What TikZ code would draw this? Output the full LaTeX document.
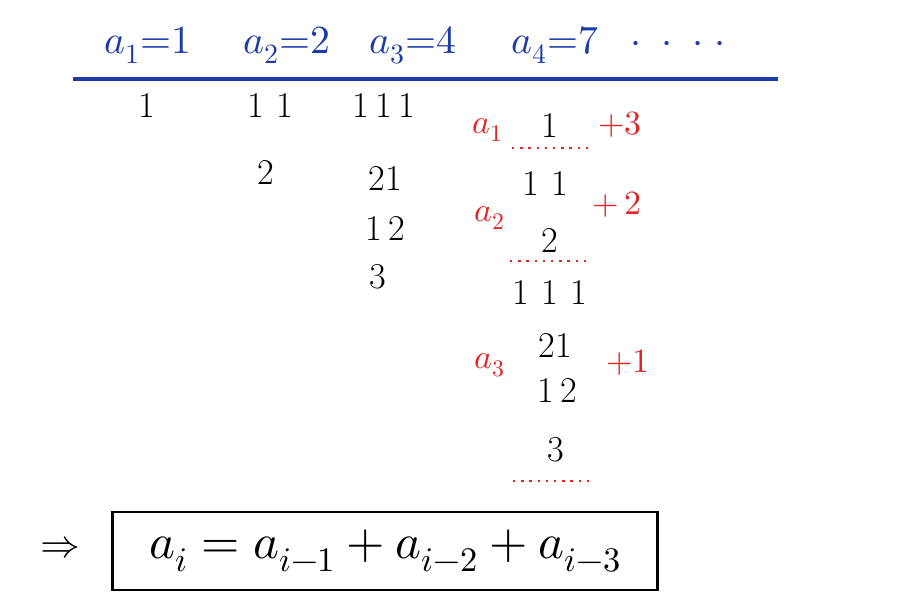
\documentclass[tikz,border=0pt]{standalone}
\usepackage{fontspec}
\usepackage{unicode-math}
\definecolor{inkblue}{RGB}{28,58,168}
\definecolor{inkred}{RGB}{226,36,36}
\begin{document}
\begin{tikzpicture}[x=0.03cm, y=-0.03cm,
term/.style={inner sep=0pt, font=\fontsize{34}{38}\selectfont, text=inkblue},
part/.style={inner sep=0pt, font=\fontsize{31}{34}\selectfont},
note/.style={inner sep=0pt, font=\fontsize{29}{32}\selectfont, text=inkred},
sep/.style={inkred, line width=2pt, dash pattern=on 2pt off 5pt},
result/.style={draw, line width=1.8pt, minimum width=545*0.03cm, minimum height=78*0.03cm, font=\fontsize{42}{46}\selectfont}
]
\useasboundingbox (0,0) rectangle (905,612);
% first terms
\node[term] (t1) at (148,45) {$a_1{=}1$};
\node[term] (t2) at (287,45) {$a_2{=}2$};
\node[term] (t3) at (413,45) {$a_3{=}4$};
\node[term] (t4) at (555,45) {$a_4{=}7$};
\node[term] (tdots) at (678,47) {$\cdot\;\cdot\;\cdot\;\cdot$};
\draw[inkblue, line width=2.6pt] (73,79) -- (778,79);
% compositions of 1, 2, 3
\node[part] (p1) at (147,105) {1};
\node[part] (p2a) at (270,105) {1\,\,1};
\node[part] (p2b) at (266,172) {2};
\node[part] (p3a) at (384,105) {1\,1\,1};
\node[part] (p3b) at (385,178) {21};
\node[part] (p3c) at (385,228) {1\,2};
\node[part] (p3d) at (378,277) {3};
% compositions of 4
\node[part] (q1) at (550,125) {1};
\draw[sep] (512,148) -- (590,148);
\node[part] (q2) at (545,183) {1\,\,1};
\node[part] (q3) at (550,240) {2};
\draw[sep] (510,261) -- (590,261);
\node[part] (q4) at (550,292) {1\,\,1\,\,1};
\node[part] (q5) at (555,345) {21};
\node[part] (q6) at (557,390) {1\,2};
\node[part] (q7) at (556,450) {3};
\draw[sep] (513,481) -- (590,481);
% grouping notes
\node[note] (m1) at (488,130) {$a_1$};
\node[note] (m2) at (490,218) {$a_2$};
\node[note] (m3) at (490,365) {$a_3$};
\node[note] (s1) at (620,125) {$+3$};
\node[note] (s2) at (617,205) {$+\,2$};
\node[note] (s3) at (628,363) {$+1$};
% recurrence
\node[result] (rec) at (385,551) {$a_i = a_{i-1} + a_{i-2} + a_{i-3}$};
\node[inner sep=0pt, font=\fontsize{34}{38}\selectfont] (imp) at (60,548) {$\Rightarrow$};
\end{tikzpicture}
\end{document}
